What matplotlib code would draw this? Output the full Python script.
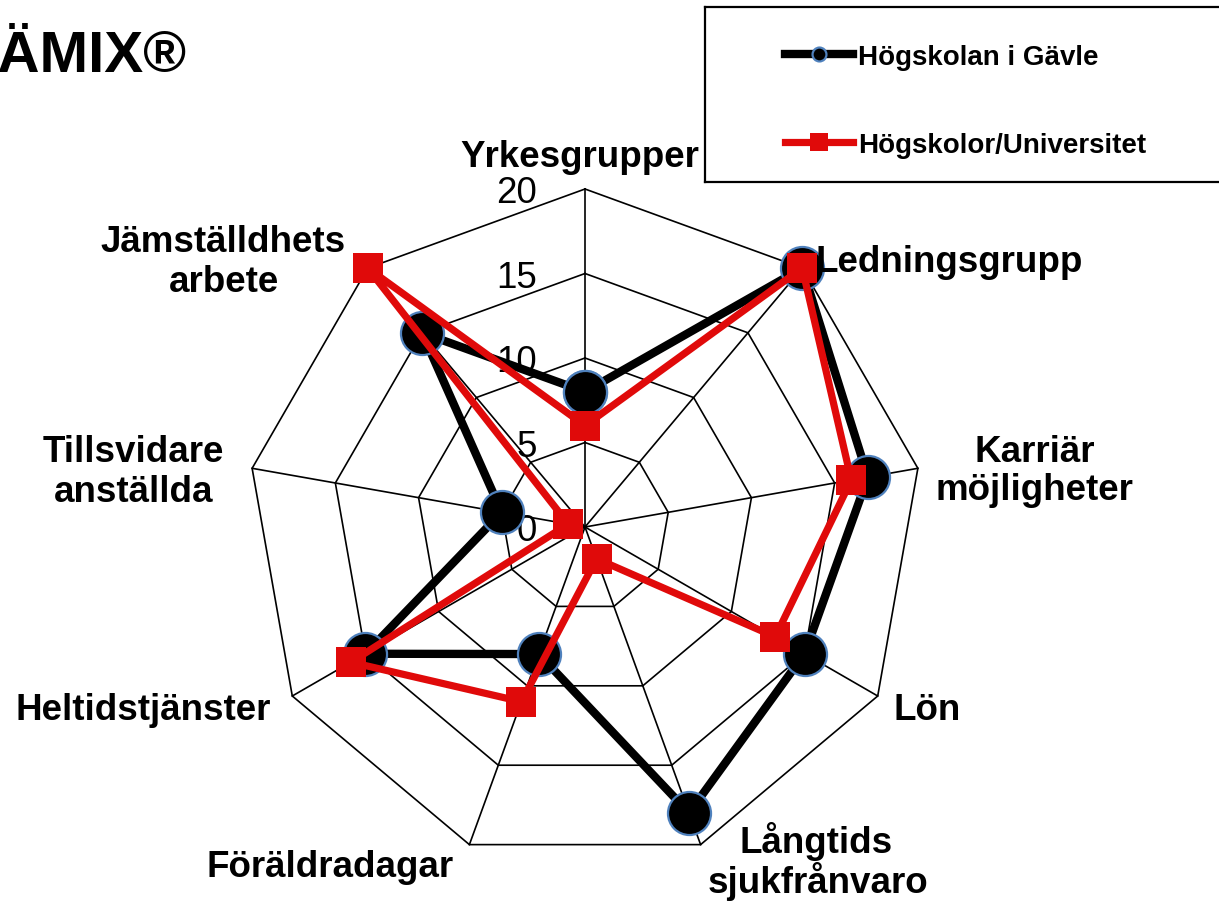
import numpy as np
import matplotlib
matplotlib.use("Agg")
import matplotlib.pyplot as plt
from matplotlib.lines import Line2D

# categories clockwise from the top
categories = ["Yrkesgrupper", "Ledningsgrupp", "Karriär\nmöjligheter", "Lön",
              "Långtids\nsjukfrånvaro", "Föräldradagar", "Heltidstjänster",
              "Tillsvidare\nanställda", "Jämställdhets\narbete"]
gavle = [8, 20, 17, 15, 18, 8, 15, 5, 15]
hogskolor = [6, 20, 16, 13, 2, 11, 16, 1, 20]
ring_ticks = [0, 5, 10, 15, 20]
series_names = ["Högskolan i Gävle", "Högskolor/Universitet"]

W, H = 1219, 904
plt.rcParams["font.family"] = ["Liberation Sans", "DejaVu Sans"]

BLACK = "black"
RED = "#e00a0a"
EDGE = "#4f81bd"


def fx(x):
    return x / W


def fy(y):
    return 1 - y / H


fig = plt.figure(figsize=(W / 100, H / 100), dpi=100)

# polar axes centred at (585, 528) px, radius 338 px
cx, cy, R = 585, 528, 338
ax = fig.add_axes([fx(cx - R), fy(cy + R), 2 * R / W, 2 * R / H], projection="polar")
ax.set_theta_zero_location("N")
ax.set_theta_direction(-1)
ax.set_ylim(0, ring_ticks[-1])
ax.grid(False)
ax.set_xticks([])
ax.set_yticks([])
ax.spines["polar"].set_visible(False)
ax.patch.set_alpha(0)

n = len(categories)
theta = np.arange(n) * 2 * np.pi / n
theta_c = np.append(theta, theta[0])

# web grid
for r in ring_ticks[1:]:
    ax.plot(theta_c, [r] * (n + 1), color="black", lw=1.2, zorder=2, clip_on=False)
for t in theta:
    ax.plot([t, t], [0, ring_ticks[-1]], color="black", lw=1.2, zorder=2, clip_on=False)

# ring value labels along the top spoke
for r in ring_ticks:
    ax.annotate(str(r), xy=(0, r), xytext=(-34.6, -9.4), textcoords="offset points",
                ha="right", va="baseline", fontsize=26.5, zorder=1)

ax.plot(theta_c, gavle + gavle[:1], color=BLACK, lw=6, marker="o", ms=31,
        mfc=BLACK, mec=EDGE, mew=1.6, zorder=4, clip_on=False)
ax.plot(theta_c, hogskolor + hogskolor[:1], color=RED, lw=5.2, marker="s", ms=21,
        mfc=RED, mec=RED, mew=0, zorder=5, clip_on=False)

# category labels (pixel baselines)
label_pos = [
    [(580, 167, "center")],
    [(815, 272, "left")],
    [(1035, 462, "center"), (1034, 500, "center")],
    [(893, 720, "left")],
    [(816, 853, "center"), (818, 893, "center")],
    [(330, 877, "center")],
    [(15, 720, "left")],
    [(133, 462, "center"), (134, 502, "center")],
    [(223, 252, "center"), (224, 292, "center")],
]
for name, lines in zip(categories, label_pos):
    for part, (x, y, ha) in zip(name.split("\n"), lines):
        fig.text(fx(x), fy(y), part, ha=ha, va="baseline", fontsize=26.5,
                 fontweight="bold", zorder=6)

# title, partly cut off at the left edge as in the source slide
fig.text(fx(-35), fy(72), "JÄMIX®", ha="left", va="baseline", fontsize=42,
         fontweight="bold")

# legend box
lax = fig.add_axes([fx(705), fy(183), (1240 - 705) / W, 175 / H])
lax.set_xticks([])
lax.set_yticks([])
for s in lax.spines.values():
    s.set_linewidth(1.6)
    s.set_color("black")
handles = [
    Line2D([], [], color=BLACK, lw=6, marker="o", ms=10, mfc=BLACK, mec=EDGE, mew=1.6),
    Line2D([], [], color=RED, lw=5.2, marker="s", ms=13.5, mfc=RED, mec=RED, mew=0),
]
lax.legend(handles, series_names, loc="upper left",
           bbox_to_anchor=((785 - 705) / 535, (183 - 45) / 175),
           frameon=False, borderpad=0, borderaxespad=0, handlelength=2.45,
           handletextpad=0.18, labelspacing=2.22,
           prop={"weight": "bold", "size": 20})

fig.savefig("out.png", dpi=100)
